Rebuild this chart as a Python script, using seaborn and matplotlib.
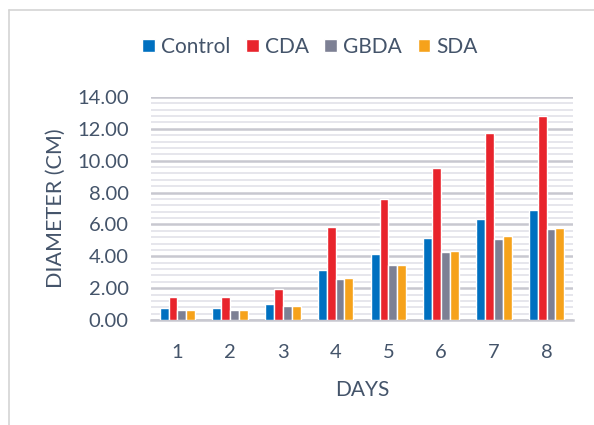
import numpy as np
import pandas as pd
import seaborn as sns
import matplotlib.pyplot as plt
from matplotlib.ticker import MultipleLocator

# data
days = ['1', '2', '3', '4', '5', '6', '7', '8']
control = [0.78, 0.78, 1.02, 3.14, 4.14, 5.15, 6.32, 6.90]
cda = [1.45, 1.45, 1.95, 5.86, 7.60, 9.52, 11.76, 12.80]
gbda = [0.65, 0.65, 0.88, 2.57, 3.45, 4.29, 5.08, 5.71]
sda = [0.65, 0.65, 0.88, 2.66, 3.43, 4.33, 5.25, 5.79]
series = ['Control', 'CDA', 'GBDA', 'SDA']
colors = ['#0070C0', '#E8242C', '#7D8094', '#F6A21B']

df = pd.DataFrame({'day': days * 4,
                   'group': np.repeat(series, len(days)),
                   'value': control + cda + gbda + sda})

sns.set_style('white')
plt.rcParams['font.family'] = ['Lato', 'DejaVu Sans']
txt = '#44546A'

fig = plt.figure(figsize=(5.94, 4.25), dpi=100)
ax = fig.add_axes([151/594, 105/425, 422/594, 223/425])

sns.barplot(data=df, x='day', y='value', hue='group', hue_order=series,
            palette=colors, width=0.67, gap=0, saturation=1, ax=ax, zorder=3)

ax.set_ylim(0, 14)
ax.set_xlim(-0.5, 7.5)
ax.yaxis.set_major_locator(MultipleLocator(2))
ax.yaxis.set_minor_locator(MultipleLocator(0.4))
ax.yaxis.set_major_formatter(lambda v, p: f'{v:.2f}')
ax.grid(axis='y', which='major', color='#C8C8D0', lw=1.8, zorder=0)
ax.grid(axis='y', which='minor', color='#E4E4EA', lw=1.3, zorder=0)
ax.set_axisbelow(True)
for s in ['top', 'right', 'left']:
    ax.spines[s].set_visible(False)
ax.spines['bottom'].set_color('#C8C8D0')
ax.spines['bottom'].set_linewidth(1.8)
ax.tick_params(axis='both', which='both', length=0, labelsize=14.5, colors=txt)
ax.tick_params(axis='y', which='major', pad=16)
ax.tick_params(axis='x', which='major', pad=17)
ax.set_xlabel('DAYS', fontsize=15, color=txt, labelpad=14)
ax.set_ylabel('DIAMETER (CM)', fontsize=15.5, color=txt, labelpad=8)

h, l = ax.get_legend_handles_labels()
ax.legend(h, l, loc='center', bbox_to_anchor=(310/594, 1 - 47/425),
          bbox_transform=fig.transFigure, ncol=4, frameon=False,
          fontsize=15, labelcolor=txt, handlelength=0.6, handleheight=0.6,
          handletextpad=0.3, columnspacing=0.75)

# outer chart frame
fig.add_artist(plt.Line2D([9/594, 9/594], [0, 1 - 10/425], color='#D4D4D4', lw=1.2))
fig.add_artist(plt.Line2D([9/594, 1], [1 - 10/425, 1 - 10/425], color='#D4D4D4', lw=1.2))

fig.savefig('out.png', dpi=100)
